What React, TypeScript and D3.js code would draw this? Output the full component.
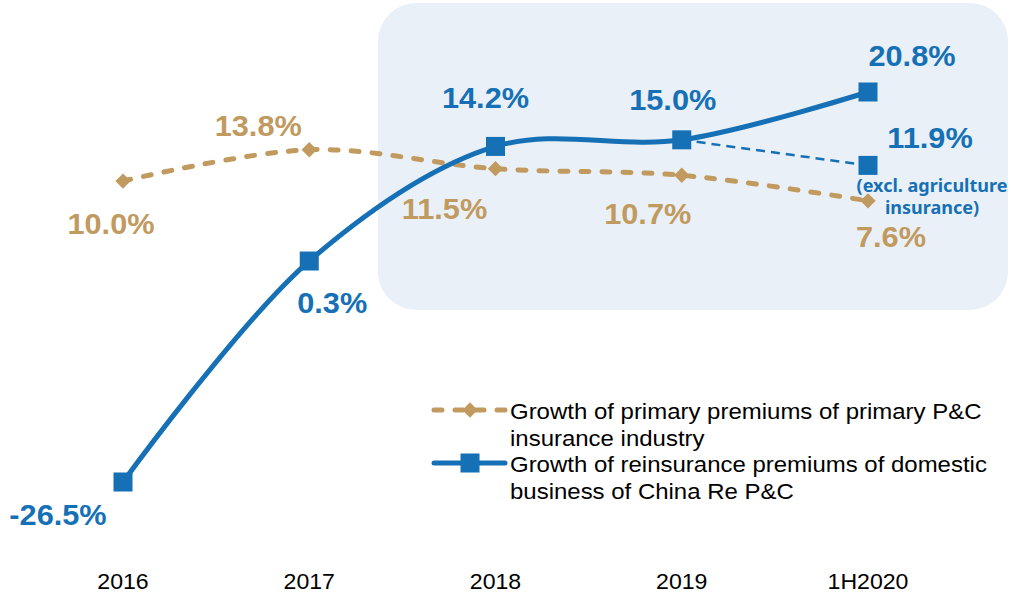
import React, { useEffect, useRef } from 'react'
import * as d3 from 'd3'

// periods on the x axis
const periods = ['2016', '2017', '2018', '2019', '1H2020']
// growth of primary premiums, primary P&C insurance industry (%)
const primaryGrowth = [10.0, 13.8, 11.5, 10.7, 7.6]
// growth of reinsurance premiums, domestic business of China Re P&C (%)
const reinsGrowth = [-26.5, 0.3, 14.2, 15.0, 20.8]
// 1H2020 excl. agriculture insurance (%)
const exclAgriPeriods = ['2019', '1H2020']
const exclAgriGrowth = [15.0, 11.9]

const legendLabels = [
  ['Growth of primary premiums of primary P&C', 'insurance industry'],
  ['Growth of reinsurance premiums of domestic', 'business of China Re P&C'],
]

const BLUE = '#1570b6'
const TAN = '#c19a5f'
const FONT = 'Liberation Sans, Arial, sans-serif'

// label offsets from their points [dx, dy]
const blueOffsets = [[-65, 43], [23, 52], [-10, -38], [-9, -30], [44, -26]]
const tanOffsets = [[-12, 53], [-51, -14], [-51, 50], [-34, 49], [23, 46]]

type Pt = [string, number]

function App() {
  const width = 1011
  const height = 594
  const refSvg = useRef(null)

  const draw = () => {
    const svg = d3.select(refSvg.current)
    svg.selectAll('*').remove()

    const x = d3.scalePoint().domain(periods).range([123, 868])
    const y = d3.scaleLinear().domain([-26.5, 20.8]).range([482, 92])

    // text slightly widened to match the source rendering
    const label = (g: any, tx: number, ty: number, s: string, size: number, color: string, opts: any = {}) =>
      g.append('text')
        .attr('transform', `translate(${tx},${ty}) scale(${opts.sx || 1},1)`)
        .attr('text-anchor', opts.anchor || 'middle')
        .attr('font-family', opts.family || FONT)
        .attr('font-weight', opts.weight || 'normal')
        .attr('font-size', size)
        .attr('fill', color)
        .text(s)

    // highlight panel
    svg.append('rect')
      .attr('x', 378).attr('y', 3)
      .attr('width', 630).attr('height', 307)
      .attr('rx', 38).attr('ry', 38)
      .attr('fill', '#eaf0f7')

    const line = d3.line<Pt>()
      .x((d) => x(d[0]) as number)
      .y((d) => y(d[1]))
      .curve(d3.curveCatmullRom.alpha(0.5))

    // excl. agriculture dashed line
    svg.append('path')
      .datum(exclAgriPeriods.map((p, i) => [p, exclAgriGrowth[i]] as Pt))
      .attr('fill', 'none')
      .attr('stroke', BLUE)
      .attr('stroke-width', 2.5)
      .attr('stroke-dasharray', '9 6')
      .attr('d', d3.line<Pt>().x((d) => x(d[0]) as number).y((d) => y(d[1])))

    // primary line
    const tanData = periods.map((p, i) => [p, primaryGrowth[i]] as Pt)
    svg.append('path')
      .datum(tanData)
      .attr('fill', 'none')
      .attr('stroke', TAN)
      .attr('stroke-width', 5)
      .attr('stroke-linecap', 'round')
      .attr('stroke-dasharray', '8 13')
      .attr('d', line)

    // reinsurance line
    const blueData = periods.map((p, i) => [p, reinsGrowth[i]] as Pt)
    svg.append('path')
      .datum(blueData)
      .attr('fill', 'none')
      .attr('stroke', BLUE)
      .attr('stroke-width', 5)
      .attr('d', line)

    const diamond = d3.symbol().type(d3.symbolDiamond2).size(150)
    svg.append('g').selectAll('path')
      .data(tanData)
      .join('path')
      .attr('d', diamond)
      .attr('transform', (d) => `translate(${x(d[0])},${y(d[1])})`)
      .attr('fill', TAN)

    const sq = 19
    svg.append('g').selectAll('rect')
      .data([...blueData, [exclAgriPeriods[1], exclAgriGrowth[1]] as Pt])
      .join('rect')
      .attr('x', (d) => (x(d[0]) as number) - sq / 2)
      .attr('y', (d) => y(d[1]) - sq / 2)
      .attr('width', sq).attr('height', sq)
      .attr('fill', BLUE)

    // data labels
    const lbl = svg.append('g')
    blueData.forEach((d, i) => {
      label(lbl, (x(d[0]) as number) + blueOffsets[i][0], y(d[1]) + blueOffsets[i][1],
        `${d[1].toFixed(1)}%`, 29, BLUE, { weight: 'bold', sx: 1.06 })
    })
    tanData.forEach((d, i) => {
      label(lbl, (x(d[0]) as number) + tanOffsets[i][0], y(d[1]) + tanOffsets[i][1],
        `${d[1].toFixed(1)}%`, 29, TAN, { weight: 'bold', sx: 1.06 })
    })

    // excl. agriculture label
    const ex = (x(exclAgriPeriods[1]) as number) + 62
    const ey = y(exclAgriGrowth[1])
    label(lbl, ex, ey - 17, `${exclAgriGrowth[1].toFixed(1)}%`, 29, BLUE, { weight: 'bold', sx: 1.06 })
    const noteOpts = { weight: 'bold', family: 'Noto Sans, Open Sans, sans-serif', sx: 1.0 }
    label(lbl, ex + 2, ey + 27, '(excl. agriculture', 18, BLUE, noteOpts)
    label(lbl, ex + 2, ey + 49, 'insurance)', 18, BLUE, noteOpts)

    // x axis labels
    const ax = svg.append('g')
    periods.forEach((p) => {
      label(ax, x(p) as number, 589, p, 22, '#000', { sx: 1.05 })
    })

    // legend
    const lg = svg.append('g').attr('transform', 'translate(432,410)')
    lg.append('line')
      .attr('x1', 2).attr('x2', 74).attr('y1', 0).attr('y2', 0)
      .attr('stroke', TAN).attr('stroke-width', 5)
      .attr('stroke-linecap', 'round')
      .attr('stroke-dasharray', '8 13')
    lg.append('path').attr('d', diamond).attr('transform', 'translate(38,0)').attr('fill', TAN)
    lg.append('line')
      .attr('x1', 2).attr('x2', 73).attr('y1', 53).attr('y2', 53)
      .attr('stroke', BLUE).attr('stroke-width', 5)
      .attr('stroke-linecap', 'round')
    lg.append('rect').attr('x', 38 - sq / 2).attr('y', 53 - sq / 2).attr('width', sq).attr('height', sq).attr('fill', BLUE)

    legendLabels.forEach((lines, i) => {
      lines.forEach((s, j) => {
        label(lg, 78, i * 53 + j * 27 + 9, s, 22, '#000', { anchor: 'start', sx: 1.09 })
      })
    })
  }

  useEffect(() => {
    if (refSvg) {
      draw()
    }
  })

  return (
    <div style={{ position: 'fixed', left: 0, top: 0 }}>
      <svg ref={refSvg} width={width} height={height} style={{ display: 'block', background: '#fff' }} />
    </div>
  )
}

export default App
